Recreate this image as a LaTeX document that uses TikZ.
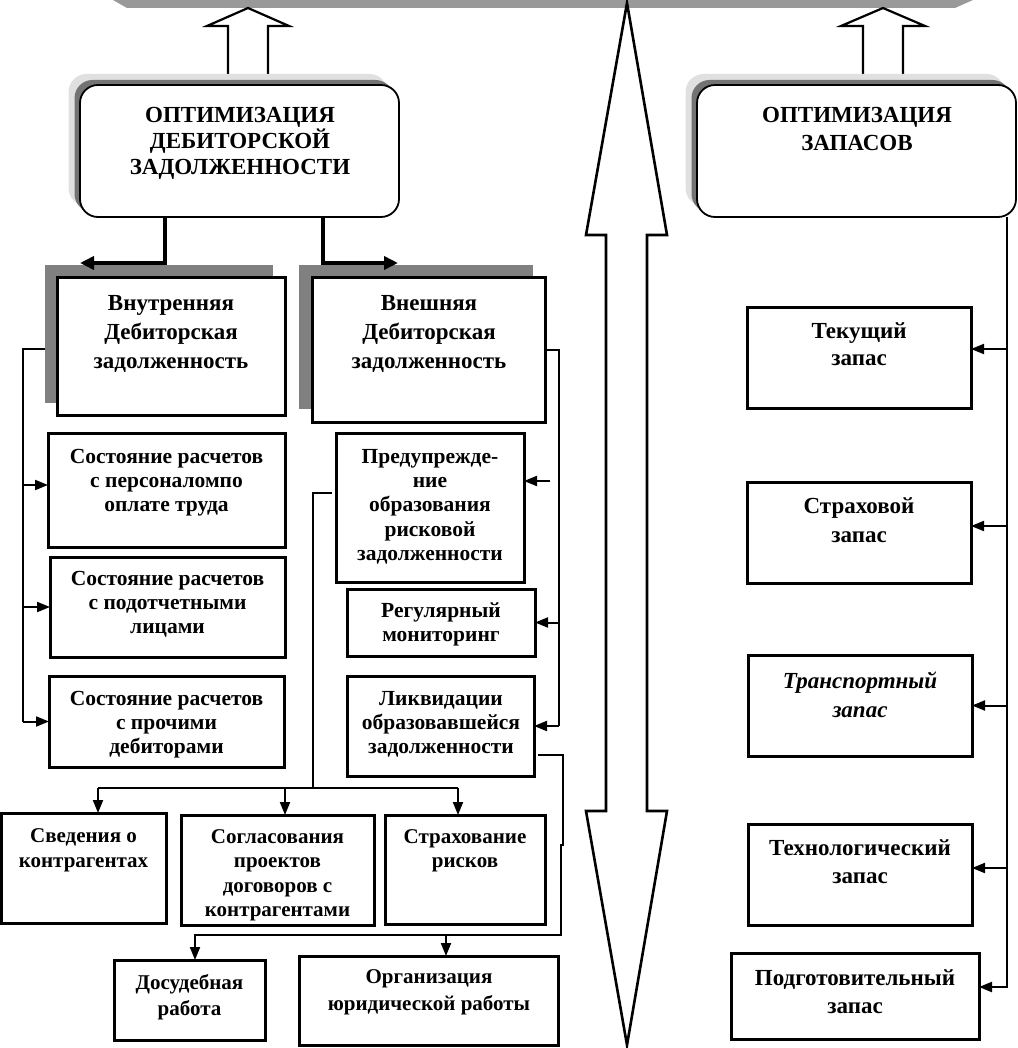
\documentclass[tikz,border=0pt]{standalone}
\usepackage{fontspec}
\setmainfont{Liberation Serif}
\usetikzlibrary{arrows.meta,calc}
\newcommand\fl{\rule{0pt}{18pt}}
\begin{document}
\begin{tikzpicture}[x=1pt,y=-1pt,
  box/.style={draw, line width=3pt, fill=white, inner sep=0pt, outer sep=0pt},
  rbox/.style={draw, line width=1.8pt, fill=white, rounded corners=18pt, inner sep=0pt, outer sep=0pt},
  shd/.style={fill=black!50, inner sep=0pt, outer sep=0pt},
  blk/.style={draw, fill=white, line width=2.2pt, line join=miter},
  conn/.style={line width=2pt},
  arr/.style={conn, -{Triangle[length=13pt,width=10pt]}},
  thk/.style={line width=4.5pt, -{Triangle[length=14pt,width=13pt]}},
  tA/.style={anchor=north, align=center, inner sep=0pt, font=\fontsize{23}{26}\selectfont\bfseries},
  tI/.style={anchor=north, align=center, inner sep=0pt, font=\fontsize{23}{29}\selectfont\bfseries},
  tB/.style={anchor=north, align=center, inner sep=0pt, font=\fontsize{21.5}{24.3}\selectfont\bfseries},
  tC/.style={anchor=north, align=center, inner sep=0pt, font=\fontsize{21}{25.5}\selectfont\bfseries},
  tR/.style={anchor=north, align=center, inner sep=0pt, font=\fontsize{23}{28.5}\selectfont\bfseries}
]
\useasboundingbox (0,0) rectangle (1017,1048);

% top bar
\fill[black!40] (113,0) -- (127,8) -- (955,8) -- (973,0) -- cycle;

% block arrows
\draw[blk, line width=2.6pt] (627,3) -- (667,235) -- (647,235) -- (647,811) -- (667,811) -- (627,1045) -- (586,811) -- (606,811) -- (606,235) -- (586,235) -- cycle;
\draw[blk] (248,8) -- (289,26) -- (268,26) -- (268,79) -- (228,79) -- (228,26) -- (207,26) -- cycle;
\draw[blk] (883,8) -- (925,26) -- (903,26) -- (903,79) -- (863,79) -- (863,26) -- (841,26) -- cycle;

% rounded title boxes
\node[rbox, draw=none, fill=black!12, minimum width=319pt, minimum height=132pt] (optLh) at (228,140) {};
\node[rbox, draw=none, fill=black!55, minimum width=319pt, minimum height=132pt] (optLs) at (234,146) {};
\node[rbox, minimum width=319pt, minimum height=132pt] (optL) at (239.5,151) {};
\node[tA] (optLt) at (240,104) {\fl ОПТИМИЗАЦИЯ\\ДЕБИТОРСКОЙ\\ЗАДОЛЖЕННОСТИ};

\node[rbox, draw=none, fill=black!12, minimum width=319pt, minimum height=132pt] (optRh) at (845,140) {};
\node[rbox, draw=none, fill=black!55, minimum width=319pt, minimum height=132pt] (optRs) at (851,146) {};
\node[rbox, minimum width=319pt, minimum height=132pt] (optR) at (856.5,151) {};
\node[tR] (optRt) at (857,104) {\fl ОПТИМИЗАЦИЯ\\ЗАПАСОВ};

% debt type boxes
\node[shd, minimum width=228pt, minimum height=138pt] (innS) at (159,334) {};
\node[shd, minimum width=234pt, minimum height=144pt] (extS) at (416,337) {};
\node[box, minimum width=228pt, minimum height=137pt] (inn) at (171,346.5) {};
\node[box, minimum width=233pt, minimum height=144pt] (ext) at (428.5,350) {};
\node[tI] (innt) at (171,292) {\fl Внутренняя\\Дебиторская\\задолженность};
\node[tI] (extt) at (429,292) {\fl Внешняя\\Дебиторская\\задолженность};

% left column
\node[box, minimum width=237pt, minimum height=114pt] (s1) at (166.5,490) {};
\node[tB] (s1t) at (166.5,445) {\fl Состояние расчетов\\с персоналомпо\\оплате труда};
\node[box, minimum width=235pt, minimum height=100pt] (s2) at (167.5,607) {};
\node[tB] (s2t) at (167.5,567) {\fl Состояние расчетов\\с подотчетными\\лицами};
\node[box, minimum width=235pt, minimum height=91pt] (s3) at (166.5,721.5) {};
\node[tB] (s3t) at (166.5,687) {\fl Состояние расчетов\\с прочими\\дебиторами};

% middle column
\node[box, minimum width=188pt, minimum height=149pt] (p1) at (430,507.5) {};
\node[tB] (p1t) at (430,445) {\fl Предупрежде-\\ние\\образования\\рисковой\\задолженности};
\node[box, minimum width=188pt, minimum height=67pt] (p2) at (441,622.5) {};
\node[tB] (p2t) at (441,599) {\fl Регулярный\\мониторинг};
\node[box, minimum width=187pt, minimum height=100pt] (p3) at (440.5,726) {};
\node[tB] (p3t) at (441,687) {\fl Ликвидации\\образовавшейся\\задолженности};

% bottom rows
\node[box, minimum width=165pt, minimum height=110pt] (b1) at (83.5,868) {};
\node[tC] (b1t) at (83.5,824) {\fl Сведения о\\контрагентах};
\node[box, minimum width=193pt, minimum height=110pt] (b2) at (277.5,870) {};
\node[tC, font=\fontsize{21}{24.5}\selectfont\bfseries] (b2t) at (277.5,825) {\fl Согласования\\проектов\\договоров с\\контрагентами};
\node[box, minimum width=160pt, minimum height=109pt] (b3) at (465,869.5) {};
\node[tC, font=\fontsize{21}{24}\selectfont\bfseries] (b3t) at (465,825) {\fl Страхование\\рисков};
\node[box, minimum width=151pt, minimum height=80pt] (c1) at (189.5,1000) {};
\node[tC, font=\fontsize{21}{26}\selectfont\bfseries] (c1t) at (189.5,971) {\fl Досудебная\\работа};
\node[box, minimum width=259pt, minimum height=89pt] (c2) at (428.5,1000.5) {};
\node[tC, font=\fontsize{21}{27}\selectfont\bfseries] (c2t) at (429,965) {\fl Организация\\юридической работы};

% right column
\node[box, minimum width=224pt, minimum height=101pt] (r1) at (859,357.5) {};
\node[tR, font=\fontsize{23}{27}\selectfont\bfseries] (r1t) at (859,320) {\fl Текущий\\запас};
\node[box, minimum width=224pt, minimum height=101pt] (r2) at (859,532.5) {};
\node[tR, font=\fontsize{23}{29}\selectfont\bfseries] (r2t) at (859,495) {\fl Страховой\\запас};
\node[box, minimum width=224pt, minimum height=101pt] (r3) at (860,705.5) {};
\node[tR, font=\fontsize{23}{29}\selectfont\bfseries\itshape] (r3t) at (860,670) {\fl Транспортный\\запас};
\node[box, minimum width=224pt, minimum height=101pt] (r4) at (860,874.5) {};
\node[tR] (r4t) at (860,837) {\fl Технологический\\запас};
\node[box, minimum width=248pt, minimum height=86pt] (r5) at (855,996) {};
\node[tR] (r5t) at (855,967) {\fl Подготовительный\\запас};

% thick connectors from the title box
\coordinate (aL) at (80,263);
\coordinate (aR) at (398,263);
\draw[thk] ($(optL.south west)+(85,0)$) |- (aL);
\draw[thk] ($(optL.south east)+(-76,0)$) |- (aR);

% left bus
\coordinate (jL) at (23,349);
\coordinate (s1a) at ($(s1.west)+(0,-5)$);
\draw[conn] ($(innS.west)+(0,15)$) -- (jL) -- (jL |- s3.west);
\draw[arr] (jL |- s1a) -- (s1a);
\draw[arr] (jL |- s2.west) -- (s2.west);
\draw[arr] (jL |- s3.west) -- (s3.west);

% right bus of external debt
\coordinate (jR) at (559,350);
\draw[conn] (ext.east) -- (jR) -- (jR |- p3.east);
\draw[arr] (jR |- p2.east) -- (p2.east);
\draw[arr] (jR |- p3.east) -- (p3.east);
\coordinate (pf) at (550,481);
\draw[arr] (pf) -- (pf -| p1.east);

% from prevention box down to the three boxes
\coordinate (hb) at (313,788);
\coordinate (b1a) at ($(b1.north)+(14.5,0)$);
\coordinate (b2a) at ($(b2.north)+(7.5,0)$);
\coordinate (b3a) at ($(b3.north)+(-7,0)$);
\draw[conn] ($(p1.west)+(-4,-14.5)$) -| (hb);
\draw[conn] (b1a |- hb) -- (b3a |- hb);
\draw[arr] (b1a |- hb) -- (b1a);
\draw[arr] (b2a |- hb) -- (b2a);
\draw[arr] (b3a |- hb) -- (b3a);

% from liquidation box down to the legal boxes
\coordinate (k1) at (563,845);
\coordinate (k2) at (561,845);
\coordinate (k3) at (561,935);
\coordinate (c1a) at ($(c1.north)+(5.5,0)$);
\coordinate (c2a) at ($(c2.north)+(17.5,0)$);
\draw[arr] ($(p3.east)+(4,29)$) -| (k1) -- (k2) -- (k3) -| (c1a);
\draw[arr] (c2a |- k3) -- (c2a);

% inventory spine
\coordinate (sp) at ($(optR.south east)+(-9,0)$);
\coordinate (r1a) at ($(r1.east)+(0,-8.5)$);
\coordinate (r2a) at ($(r2.east)+(0,-6.5)$);
\coordinate (r4a) at ($(r4.east)+(0,-6.5)$);
\draw[arr, line width=2.3pt] (sp) |- ($(r5.east)+(0,-9)$);
\draw[arr] (sp |- r1a) -- (r1a);
\draw[arr] (sp |- r2a) -- (r2a);
\draw[arr] (sp |- r3.east) -- (r3.east);
\draw[arr] (sp |- r4a) -- (r4a);
\end{tikzpicture}
\end{document}
